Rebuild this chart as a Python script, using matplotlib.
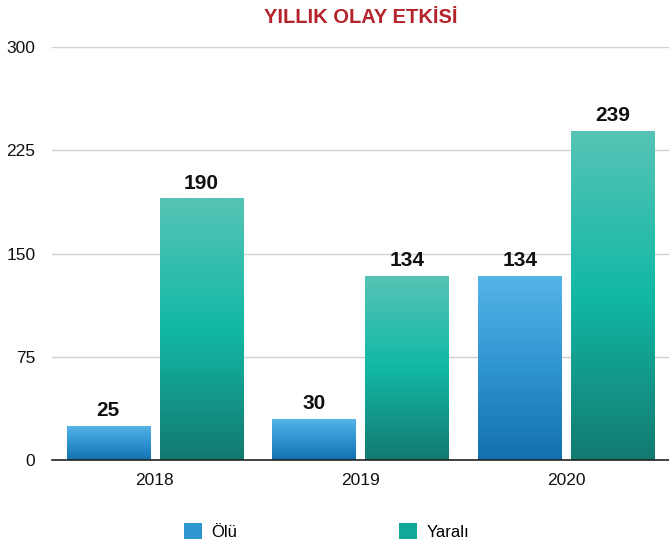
import numpy as np
import matplotlib.pyplot as plt
from matplotlib.colors import LinearSegmentedColormap
from matplotlib.patches import Patch

plt.rcParams['font.family'] = ['Liberation Sans', 'DejaVu Sans']

years = ["2018", "2019", "2020"]
olu = [25, 30, 134]
yarali = [190, 134, 239]
series_names = ["Ölü", "Yaralı"]

blue_cmap = LinearSegmentedColormap.from_list("b", ["#1470b0", "#2f94d2", "#56b5e7"])
teal_cmap = LinearSegmentedColormap.from_list("t", ["#137a70", "#12b8a5", "#56c4b6"])

fig = plt.figure(figsize=(6.69, 5.41), dpi=100)
ax = fig.add_axes([0.0777, 0.1497, 0.9223, 0.7634])

x = np.arange(len(years))
width = 0.405
offset = 0.226

grad = np.linspace(0, 1, 256).reshape(-1, 1)

for vals, cmap, sign in [(olu, blue_cmap, -1), (yarali, teal_cmap, 1)]:
    bars = ax.bar(x + sign * offset, vals, width, color='none', edgecolor='none', zorder=3)
    for b, v in zip(bars, vals):
        x0 = b.get_x()
        im = ax.imshow(grad, cmap=cmap, origin='lower', aspect='auto',
                       extent=[x0, x0 + width, 0, v], zorder=3)
        im.set_clip_path(b)
        ax.text(x0 + width / 2, v + 4, str(v), ha='center', va='bottom',
                fontsize=15, fontweight='bold', color='#111111', zorder=4)

ax.set_xlim(-0.5, 2.5)
ax.set_ylim(0, 300)
ax.set_yticks([0, 75, 150, 225, 300])
ax.set_xticks(x)
ax.set_xticklabels(years)
ax.grid(axis='y', color='#d0d0d0', linewidth=1, zorder=0)
for s in ['top', 'right', 'left']:
    ax.spines[s].set_visible(False)
ax.spines['bottom'].set_color('#222222')
ax.spines['bottom'].set_linewidth(1.2)
ax.spines['bottom'].set_zorder(5)
ax.tick_params(axis='both', length=0, labelsize=12.5, colors='#111111')
ax.tick_params(axis='y', pad=12)
ax.tick_params(axis='x', pad=9)

ax.set_title("YILLIK OLAY ETKİSİ", color='#b5242c', fontsize=14.5, fontweight='bold', pad=17)

handles = [Patch(facecolor='#2f94d2'), Patch(facecolor='#12a898')]
fig.legend(handles, series_names, loc='center', bbox_to_anchor=(0.488, 0.017),
           ncol=2, frameon=False, fontsize=12, handlelength=1.1, handleheight=1.1,
           columnspacing=9.7, handletextpad=0.55, borderpad=0)

fig.savefig("out.png", dpi=100)
